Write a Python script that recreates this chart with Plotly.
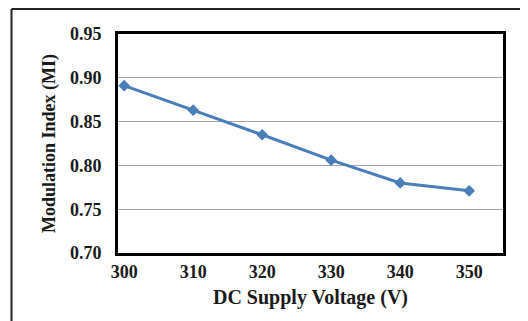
import plotly.graph_objects as go

voltage = [300, 310, 320, 330, 340, 350]
mod_index = [0.891, 0.863, 0.835, 0.806, 0.780, 0.771]
x_ticks = [300, 310, 320, 330, 340, 350]
y_ticks = [0.70, 0.75, 0.80, 0.85, 0.90, 0.95]

# page body has an 8px margin, so the figure is drawn at (8, 8)
W, H = 520, 313
L, R, T, B = 110, 25, 26, 68
pw, ph = W - L - R, H - T - B

def px_x(p):
    return (p - L) / pw

def px_y(p):
    return (H - B - p) / ph

font_family = "Liberation Serif"

fig = go.Figure()
fig.add_trace(go.Scatter(
    x=voltage, y=mod_index, mode="lines+markers",
    line=dict(color="#4A7EBB", width=3),
    marker=dict(symbol="diamond", size=9, color="#4A7EBB"),
    showlegend=False,
))

fig.update_layout(
    width=W, height=H,
    margin=dict(l=L, r=R, t=T, b=B, autoexpand=False),
    paper_bgcolor="white", plot_bgcolor="white",
    font=dict(family=font_family, color="#1a1a1a"),
    xaxis=dict(
        range=[299.1, 354.9], tickvals=x_ticks,
        ticktext=[str(v) for v in x_ticks],
        showgrid=False, zeroline=False, automargin=False,
        showline=True, mirror=True, linecolor="black", linewidth=3,
        ticks="", ticklabelstandoff=0,
        tickfont=dict(size=18, family=font_family, weight="bold"),
        title=dict(text="<b>DC Supply Voltage (V)</b>",
                   font=dict(size=20, family=font_family), standoff=10),
    ),
    yaxis=dict(
        range=[0.70, 0.95], tickvals=y_ticks, tickformat=".2f",
        showgrid=True, gridcolor="#A6A6A6", gridwidth=1, zeroline=False,
        automargin=False,
        showline=True, mirror=True, linecolor="black", linewidth=3,
        ticks="", ticklabelstandoff=10,
        tickfont=dict(size=18, family=font_family, weight="bold"),
        title=dict(text="<b>Modulation Index (MI)</b>",
                   font=dict(size=18, family=font_family), standoff=10),
    ),
    shapes=[
        dict(type="line", xref="paper", yref="paper",
             x0=px_x(3.5), x1=px_x(530), y0=px_y(1), y1=px_y(1),
             line=dict(color="#222222", width=2)),
        dict(type="line", xref="paper", yref="paper",
             x0=px_x(3.5), x1=px_x(3.5), y0=px_y(1), y1=px_y(330),
             line=dict(color="#222222", width=2)),
    ],
)

fig.write_html("out.html")
